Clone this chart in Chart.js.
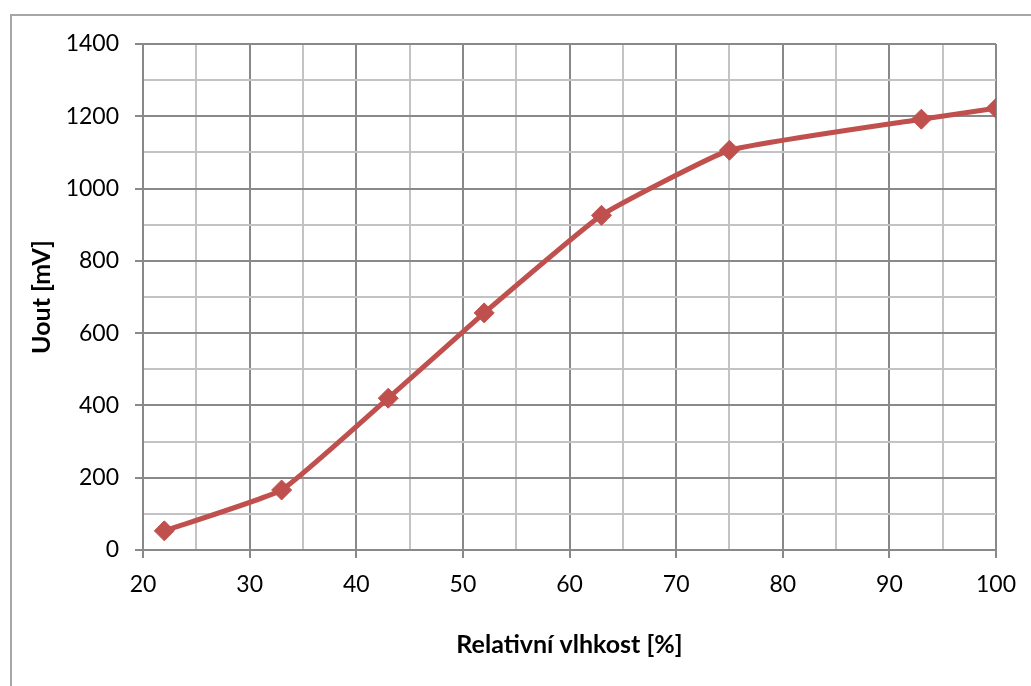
<!DOCTYPE html>
<html>
<head>
<meta charset="utf-8">
<script src="https://cdn.jsdelivr.net/npm/chart.js@4/dist/chart.umd.min.js"></script>
<style>
    html, body { margin: 0; padding: 0; background: #ffffff; overflow: hidden; }
    #frame {
        position: absolute; left: 10px; top: 14px;
        width: 1100px; height: 800px;
        border: 2px solid #a6a6a6; box-sizing: border-box;
    }
    #wrap { position: absolute; left: 0; top: 0; width: 1031px; height: 686px; }
</style>
</head>
<body>
<div id="frame"></div>
<div id="wrap"><canvas id="chart" width="1031" height="686"></canvas></div>
<script>
// Relative humidity [%] vs. output voltage [mV]
const humidity = [22, 33, 43, 52, 63, 75, 93, 100];
const uout = [53, 166, 420, 656, 926, 1106, 1192, 1222];

const xMin = 20, xMax = 100, xStep = 5, xMajor = 10;
const yMin = 0, yMax = 1400, yStep = 100, yMajor = 200;

const MAJOR = '#898989';
const MINOR = '#c3c3c3';
const RED = '#c0504d';
const FONT = 'Lato, "Open Sans", sans-serif';

function isMajor(v, m) { return Math.abs(v % m) < 1e-6; }

const ctx = document.getElementById('chart').getContext('2d');

new Chart(ctx, {
    type: 'line',
    data: {
        datasets: [{
            label: 'Uout',
            data: humidity.map((x, i) => ({ x, y: uout[i] })),
            borderColor: RED,
            backgroundColor: RED,
            borderWidth: 5,
            pointStyle: 'rectRot',
            pointRadius: 10,
            pointHoverRadius: 10,
            pointBackgroundColor: RED,
            pointBorderColor: RED,
            pointBorderWidth: 1,
            tension: 0.12,
            fill: false
        }]
    },
    options: {
        responsive: false,
        animation: false,
        layout: { padding: { left: 10, top: 44, right: 35, bottom: 0 } },
        plugins: {
            legend: { display: false },
            tooltip: { enabled: false }
        },
        scales: {
            x: {
                type: 'linear',
                min: xMin,
                max: xMax,
                afterFit: s => { s.height = 136; },
                border: { color: MAJOR, width: 2 },
                grid: {
                    lineWidth: 2,
                    color: c => isMajor(c.tick.value, xMajor) ? MAJOR : MINOR,
                    tickColor: c => isMajor(c.tick.value, xMajor) ? MAJOR : 'rgba(0,0,0,0)',
                    tickLength: 8
                },
                ticks: {
                    stepSize: xStep,
                    autoSkip: false,
                    maxRotation: 0,
                    padding: 13,
                    color: '#000000',
                    font: { family: FONT, size: 23 },
                    callback: v => isMajor(v, xMajor) ? v : ''
                },
                title: {
                    display: true,
                    text: 'Relativní vlhkost [%]',
                    color: '#000000',
                    font: { family: FONT, size: 25, weight: 'bold' },
                    padding: { top: 0, bottom: 26 }
                }
            },
            y: {
                type: 'linear',
                min: yMin,
                max: yMax,
                afterFit: s => { s.width = 133; },
                border: { color: MAJOR, width: 2 },
                grid: {
                    lineWidth: 2,
                    color: c => isMajor(c.tick.value, yMajor) ? MAJOR : MINOR,
                    tickColor: c => isMajor(c.tick.value, yMajor) ? MAJOR : 'rgba(0,0,0,0)',
                    tickLength: 8
                },
                ticks: {
                    stepSize: yStep,
                    autoSkip: false,
                    padding: 16,
                    color: '#000000',
                    font: { family: FONT, size: 23 },
                    callback: v => isMajor(v, yMajor) ? v : ''
                },
                title: {
                    display: true,
                    text: 'Uout [mV]',
                    color: '#000000',
                    font: { family: FONT, size: 25, weight: 'bold' },
                    padding: { top: 17, bottom: 0 }
                }
            }
        }
    }
});
</script>
</body>
</html>
